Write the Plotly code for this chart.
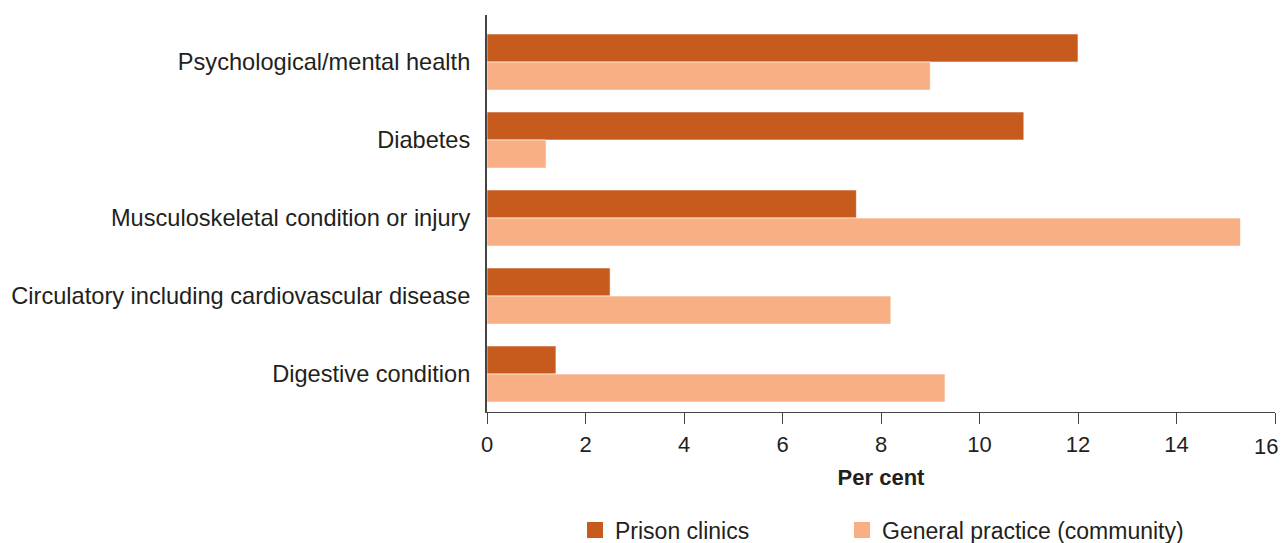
import plotly.graph_objects as go

categories = [
    "Psychological/mental health",
    "Diabetes",
    "Musculoskeletal condition or injury",
    "Circulatory including cardiovascular disease",
    "Digestive condition",
]
prison_clinics = [12.0, 10.9, 7.5, 2.5, 1.4]
general_practice = [9.0, 1.2, 15.3, 8.2, 9.3]
x_ticks = [0, 2, 4, 6, 8, 10, 12, 14, 16]

FONT = "Liberation Sans, Arial, sans-serif"
PRISON_COLOR = "#C75B1D"
GP_COLOR = "#F7AF83"
TEXT_COLOR = "#231F20"

W, H = 1279, 535  # page body adds an 8px offset

fig = go.Figure()
fig.add_trace(go.Bar(
    y=categories, x=prison_clinics, orientation="h", name="Prison clinics",
    marker=dict(color=PRISON_COLOR, line=dict(color="rgba(255,255,255,0.6)", width=1)),
    showlegend=False,
))
fig.add_trace(go.Bar(
    y=categories, x=general_practice, orientation="h", name="General practice (community)",
    marker=dict(color=GP_COLOR, line=dict(color="rgba(255,255,255,0.6)", width=1)),
    showlegend=False,
))
# legend entries with square swatches
fig.add_trace(go.Scatter(
    x=[None], y=[None], mode="markers", name="Prison clinics",
    marker=dict(symbol="square", size=20, color=PRISON_COLOR), legend="legend",
))
fig.add_trace(go.Scatter(
    x=[None], y=[None], mode="markers", name="General practice (community)",
    marker=dict(symbol="square", size=20, color=GP_COLOR), legend="legend2",
))

legend_common = dict(
    orientation="h", xref="container", yref="container", xanchor="left",
    yanchor="middle", y=1 - 522 / H, font=dict(size=23, color=TEXT_COLOR),
    bgcolor="rgba(0,0,0,0)",
)

# last tick label sits at the page edge; draw it right-aligned so it stays visible
tick_text = [str(v) if v != x_ticks[-1] else "" for v in x_ticks]
fig.add_annotation(
    x=x_ticks[-1], xref="x", y=0, yref="paper", text=str(x_ticks[-1]),
    showarrow=False, xanchor="right", yanchor="middle", xshift=5, yshift=-34,
    font=dict(size=22, color=TEXT_COLOR, family=FONT),
)

fig.update_layout(
    width=W, height=H,
    margin=dict(l=479, r=12, t=7, b=131, autoexpand=False),
    paper_bgcolor="white", plot_bgcolor="white",
    barmode="group", bargap=0.28, bargroupgap=0,
    font=dict(family=FONT, size=23, color=TEXT_COLOR),
    showlegend=True,
    legend=dict(x=567 / W, **legend_common),
    legend2=dict(x=834 / W, **legend_common),
    xaxis=dict(
        range=[0, 16], tickvals=x_ticks, ticktext=tick_text, ticks="outside", ticklen=11,
        tickwidth=1, tickcolor="#444", showline=True, linecolor="#444", linewidth=1,
        showgrid=False, zeroline=False, automargin=False, ticklabeloverflow="allow",
        tickfont=dict(size=22, color=TEXT_COLOR), ticklabelstandoff=2,
        title=dict(text="<b>Per cent</b>", font=dict(size=22, color=TEXT_COLOR), standoff=13),
    ),
    yaxis=dict(
        range=[4.487, -0.603], showline=True, linecolor="#444", linewidth=2,
        ticks="", showgrid=False, zeroline=False, automargin=False,
        tickfont=dict(size=23.6, color=TEXT_COLOR), ticklabelstandoff=10,
    ),
)

fig.write_html("out.html")
